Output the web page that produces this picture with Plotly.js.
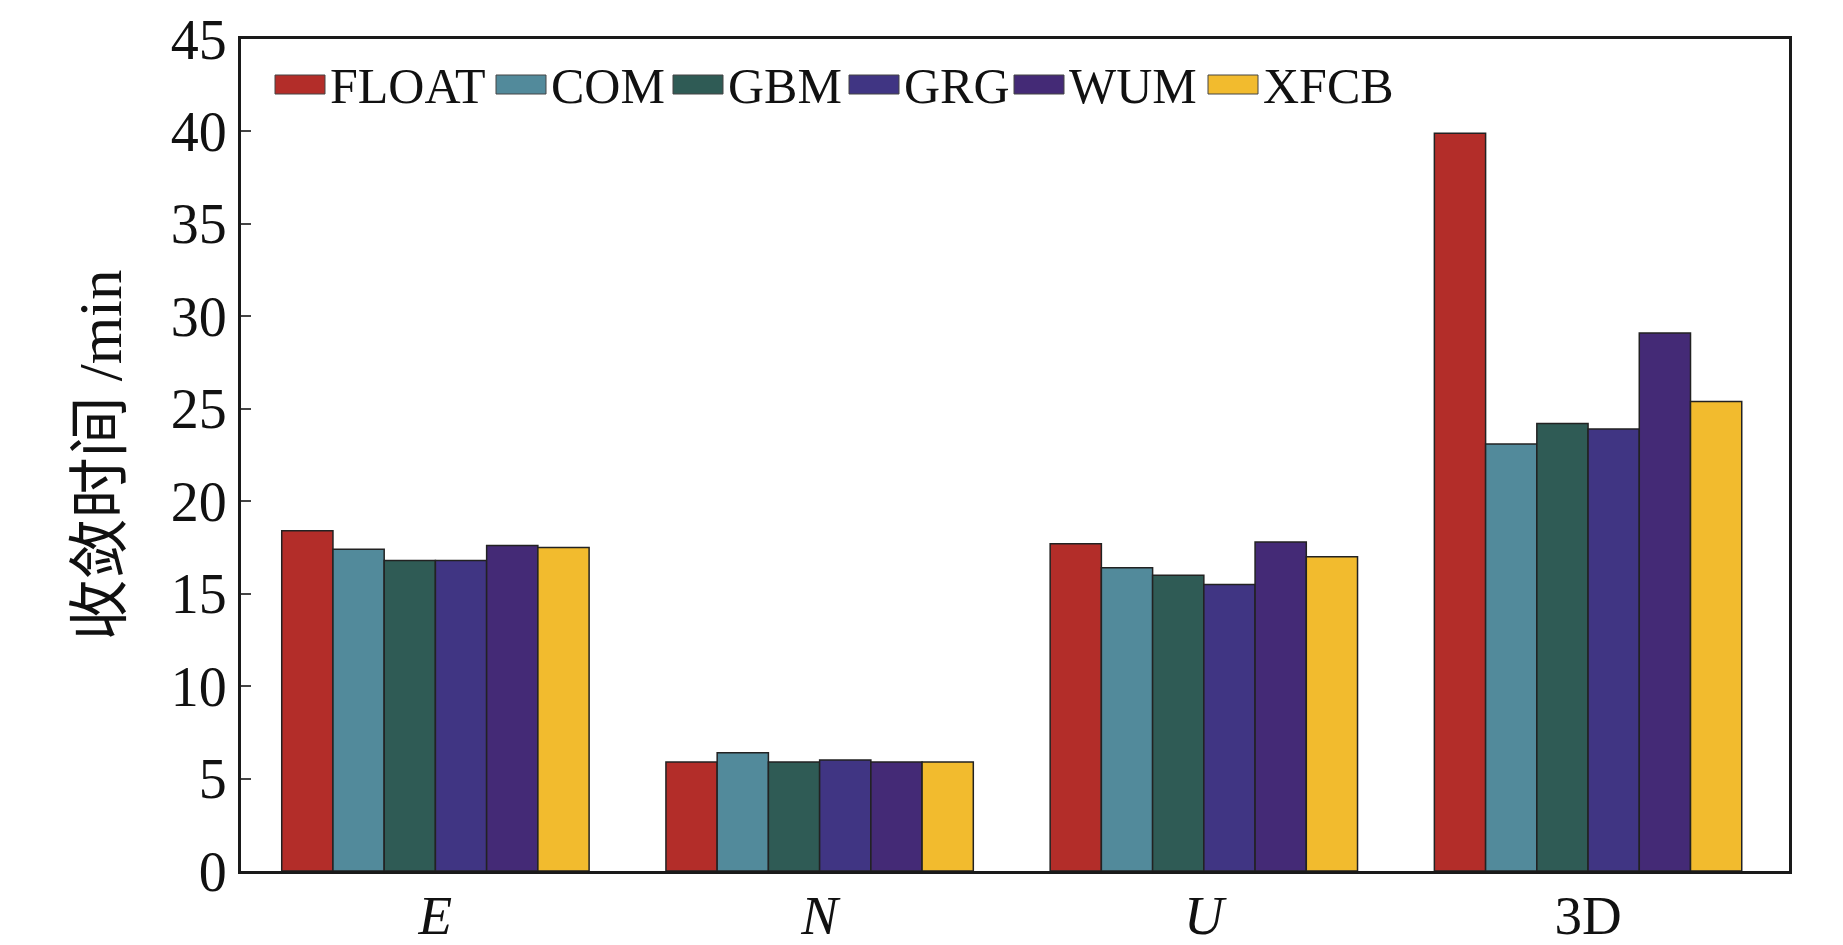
<!DOCTYPE html>
<html>
<head>
<meta charset="utf-8">
<script src="https://cdn.plot.ly/plotly-3.0.1.min.js"></script>
<style>html,body{margin:0;padding:0;background:#fff;}#chart{width:1843px;height:945px;}</style>
</head>
<body>
<div id="chart"></div>
<script>
// ---- data ----
const categories = ['E', 'N', 'U', '3D'];
const tickLabels = ['<i>E</i>', '<i>N</i>', '<i>U</i>', '3D'];
const seriesNames = ['FLOAT', 'COM', 'GBM', 'GRG', 'WUM', 'XFCB'];
const FLOAT = [18.4, 5.9, 17.7, 39.9];
const COM   = [17.4, 6.4, 16.4, 23.1];
const GBM   = [16.8, 5.9, 16.0, 24.2];
const GRG   = [16.8, 6.0, 15.5, 23.9];
const WUM   = [17.6, 5.9, 17.8, 29.1];
const XFCB  = [17.5, 5.9, 17.0, 25.4];
const yTickVals = [0, 5, 10, 15, 20, 25, 30, 35, 40, 45];
const yTitle = '收敛时间 /min';

// ---- styles ----
const colors = ['#b32d29', '#528a9b', '#2f5b55', '#403583', '#442a76', '#f2bb2e'];
const seriesValues = [FLOAT, COM, GBM, GRG, WUM, XFCB];
const serif = 'Liberation Serif, Times New Roman, serif';

const W = 1843, H = 945;
const M = {l: 241, r: 54, t: 39, b: 74};
const pw = W - M.l - M.r, ph = H - M.t - M.b;
const px2x = px => (px - M.l) / pw;
const py2y = py => (H - M.b - py) / ph;

const traces = seriesNames.map((name, i) => ({
  type: 'bar',
  name: name,
  x: categories,
  y: seriesValues[i],
  marker: {color: colors[i], line: {color: '#222', width: 1.5}},
  showlegend: false
}));

// custom legend (wide swatches like the reference)
const legendSwatchX = [275, 496, 673, 849, 1014, 1208];
const swW = 50, swTop = 75, swBot = 94;
const shapes = [];
const annotations = [];
seriesNames.forEach((name, i) => {
  shapes.push({
    type: 'rect', xref: 'paper', yref: 'paper',
    x0: px2x(legendSwatchX[i]), x1: px2x(legendSwatchX[i] + swW),
    y0: py2y(swBot), y1: py2y(swTop),
    fillcolor: colors[i], line: {color: '#444', width: 1}
  });
  annotations.push({
    xref: 'paper', yref: 'paper',
    x: px2x(legendSwatchX[i] + swW + 3), y: py2y((swTop + swBot) / 2 + 1),
    xanchor: 'left', yanchor: 'middle', showarrow: false,
    text: name, font: {family: serif, size: 50, color: '#111'}
  });
});

const layout = {
  width: W, height: H,
  margin: M,
  paper_bgcolor: '#fff', plot_bgcolor: '#fff',
  barmode: 'group', bargap: 0.2, bargroupgap: 0,
  showlegend: false,
  font: {family: serif, color: '#111'},
  xaxis: {
    type: 'category',
    range: [-0.506, 3.523],
    tickvals: categories, ticktext: tickLabels,
    tickfont: {family: serif, size: 55, color: '#111'},
    ticklabelstandoff: -6,
    ticks: '', showgrid: false, zeroline: false,
    showline: true, mirror: true, linewidth: 3, linecolor: '#1a1a1a'
  },
  yaxis: {
    range: [0, 45],
    tickvals: yTickVals,
    tickfont: {family: serif, size: 56, color: '#111'},
    ticks: 'inside', ticklen: 10, tickwidth: 2, tickcolor: '#444',
    showgrid: false, zeroline: false,
    showline: true, mirror: true, linewidth: 3, linecolor: '#1a1a1a',
    title: {text: yTitle, font: {family: 'Liberation Serif, Noto Sans CJK SC, serif', size: 61, color: '#111'}, standoff: 30}
  },
  shapes: shapes,
  annotations: annotations
};

Plotly.newPlot('chart', traces, layout, {staticPlot: true, displayModeBar: false});
</script>
</body>
</html>
